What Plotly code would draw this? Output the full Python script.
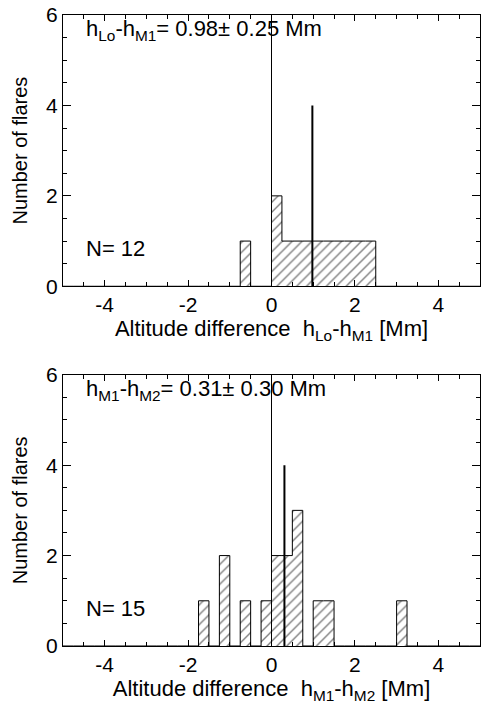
import numpy as np
import plotly.graph_objects as go
from plotly.subplots import make_subplots

# Histogram bins are 0.25 Mm wide; values are the left edges of non-empty bins
bin_width = 0.25
lo_m1_bin_left = [-0.75, 0.0, 0.25, 0.5, 0.75, 1.0, 1.25, 1.5, 1.75, 2.0, 2.25]
lo_m1_counts = [1, 2, 1, 1, 1, 1, 1, 1, 1, 1, 1]
lo_m1_mean, lo_m1_err = 0.98, 0.25

m1_m2_bin_left = [-1.75, -1.25, -0.75, -0.25, 0.0, 0.25, 0.5, 1.0, 1.25, 3.0]
m1_m2_counts = [1, 2, 1, 1, 2, 2, 3, 1, 1, 1]
m1_m2_mean, m1_m2_err = 0.31, 0.30

x_tickvals = [-4, -2, 0, 2, 4]
x_ticktext = ["-4", "-2", "0", "2", "4"]
y_tickvals = [0, 2, 4, 6]

panels = [
    dict(left=lo_m1_bin_left, counts=lo_m1_counts, mean=lo_m1_mean, err=lo_m1_err,
         label="h<sub>Lo</sub>-h<sub>M1</sub>",
         xtitle="Altitude difference  h<sub>Lo</sub>-h<sub>M1</sub> [Mm]"),
    dict(left=m1_m2_bin_left, counts=m1_m2_counts, mean=m1_m2_mean, err=m1_m2_err,
         label="h<sub>M1</sub>-h<sub>M2</sub>",
         xtitle="Altitude difference  h<sub>M1</sub>-h<sub>M2</sub> [Mm]"),
]

FONT = "Liberation Sans, Arial, Helvetica, sans-serif"
FS = 21
W, H = 484, 707
ml, mr, mt, mb = 63, 3, 11, 61
plot_h = H - mt - mb
panel_h = 273
frac = panel_h / plot_h

fig = make_subplots(rows=2, cols=1, vertical_spacing=1 - 2 * frac)

# full grid from -5 to 5 for the step outline
edges = np.arange(-5.0, 5.0 + bin_width / 2, bin_width)

for i, p in enumerate(panels, start=1):
    left = np.array(p["left"])
    counts = np.array(p["counts"])
    centers = left + bin_width / 2

    # hatched fill of every bin
    fig.add_trace(go.Bar(
        x=centers, y=counts, width=bin_width,
        marker=dict(color="white", line=dict(width=0),
                    pattern=dict(shape="/", fgcolor="black", bgcolor="white",
                                 size=7, solidity=0.2)),
        showlegend=False, hoverinfo="skip"), row=i, col=1)

    # step outline of the histogram
    grid = np.zeros(len(edges) - 1)
    idx = np.round((left - edges[0]) / bin_width).astype(int)
    grid[idx] = counts
    ys = np.append(grid, grid[-1])
    fig.add_trace(go.Scatter(
        x=edges, y=ys, mode="lines", line=dict(color="black", width=1, shape="hv"),
        showlegend=False, hoverinfo="skip"), row=i, col=1)

    xref = "x" if i == 1 else "x2"
    yref = "y" if i == 1 else "y2"
    # zero line through the full height
    fig.add_shape(type="line", x0=0, x1=0, y0=0, y1=1, xref=xref, yref=yref + " domain",
                  line=dict(color="black", width=1))
    # mean altitude difference
    fig.add_shape(type="line", x0=p["mean"], x1=p["mean"], y0=0, y1=4, xref=xref, yref=yref,
                  line=dict(color="black", width=2))

    fig.add_annotation(
        text=f"{p['label']}= {p['mean']:.2f}± {p['err']:.2f} Mm",
        xref=xref + " domain", yref=yref + " domain", x=0.05, y=0.945,
        xanchor="left", yanchor="middle", showarrow=False,
        font=dict(family=FONT, size=22, color="black"))
    fig.add_annotation(
        text=f"N= {int(counts.sum())}",
        xref=xref + " domain", yref=yref + " domain", x=0.05, y=0.14,
        xanchor="left", yanchor="middle", showarrow=False,
        font=dict(family=FONT, size=22, color="black"))

    fig.update_xaxes(
        range=[-5, 5], tickvals=x_tickvals, ticktext=x_ticktext,
        ticks="inside", ticklen=6, tickcolor="black", tickwidth=1,
        showline=True, linecolor="black", linewidth=1, mirror="allticks",
        showgrid=False, zeroline=False,
        minor=dict(dtick=0.5, tick0=0, ticks="inside", ticklen=4, tickcolor="black",
                   tickwidth=1, showgrid=False),
        tickfont=dict(family=FONT, size=FS, color="black"),
        title=dict(text=p["xtitle"], font=dict(family=FONT, size=22, color="black"), standoff=0),
        row=i, col=1)
    fig.update_yaxes(
        range=[0, 6], tickvals=y_tickvals,
        ticks="inside", ticklen=8, tickcolor="black", tickwidth=1,
        showline=True, linecolor="black", linewidth=1, mirror="allticks",
        showgrid=False, zeroline=False,
        minor=dict(dtick=0.5, tick0=0, ticks="inside", ticklen=4, tickcolor="black",
                   tickwidth=1, showgrid=False),
        tickfont=dict(family=FONT, size=FS, color="black"),
        title=dict(text="Number of flares", font=dict(family=FONT, size=20, color="black"),
                   standoff=13),
        row=i, col=1)

fig.update_layout(
    width=W, height=H, margin=dict(l=ml, r=mr, t=mt, b=mb),
    paper_bgcolor="white", plot_bgcolor="white", bargap=0, barmode="overlay",
    font=dict(family=FONT, size=FS, color="black"))

fig.write_html("out.html")
